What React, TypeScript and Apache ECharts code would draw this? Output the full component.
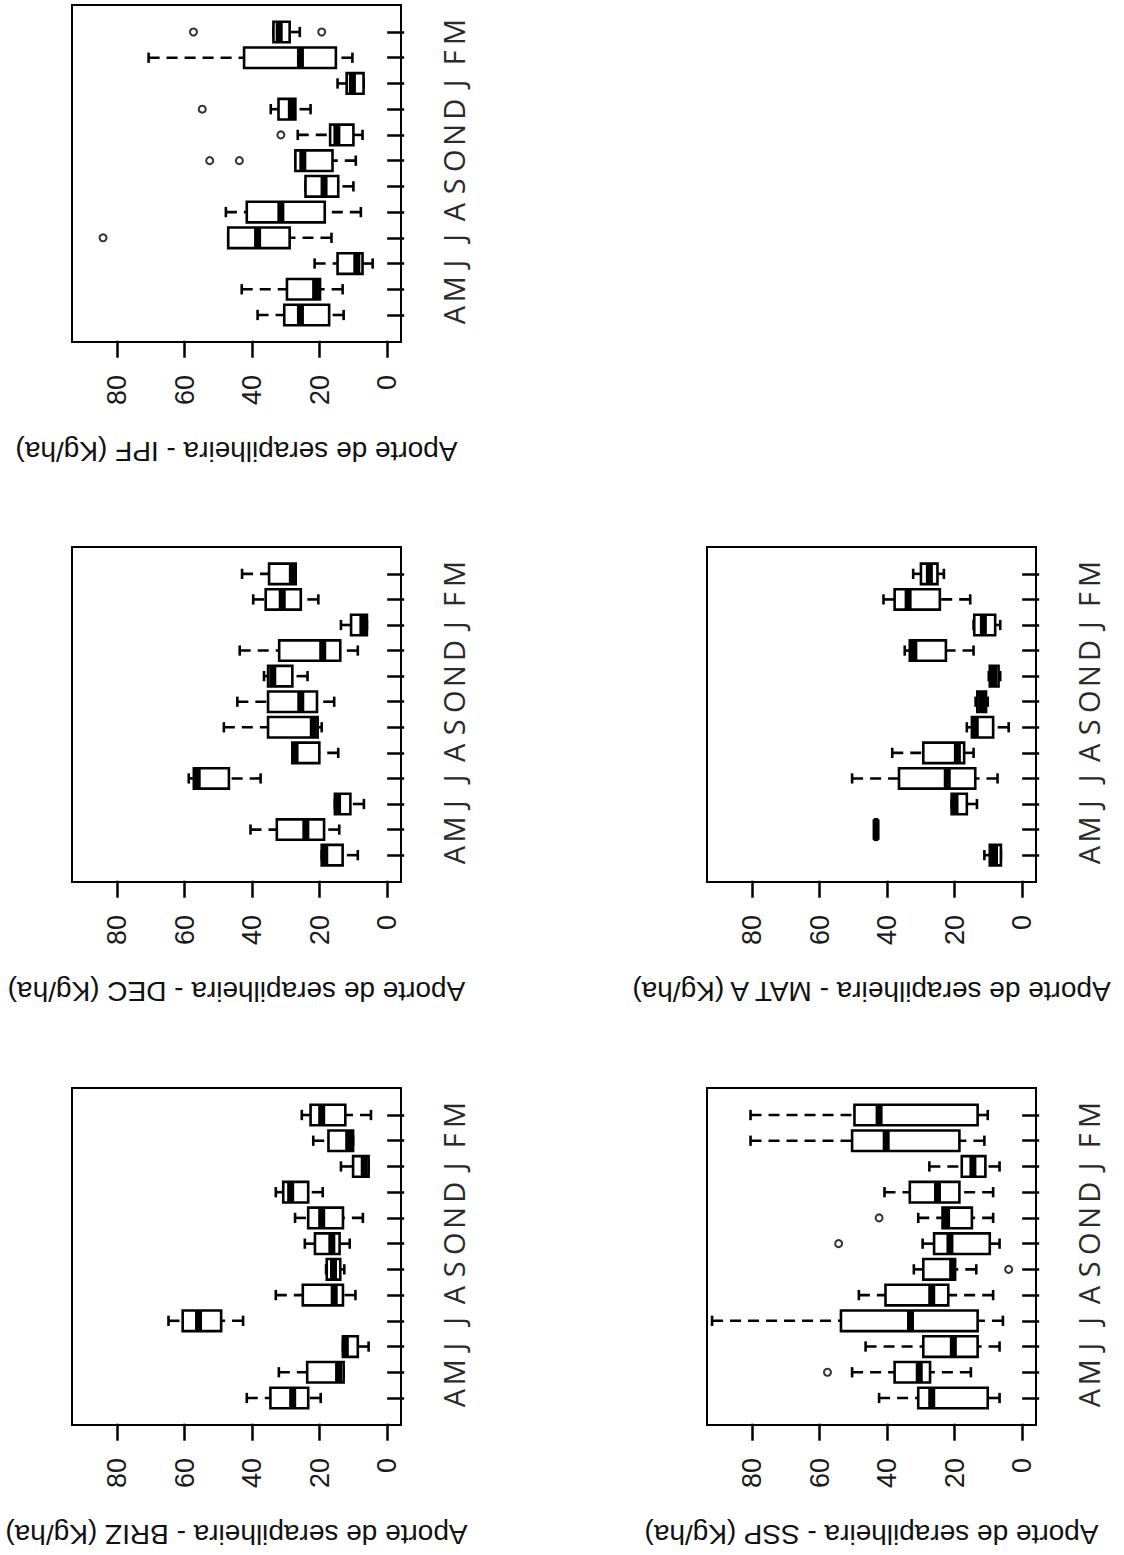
import React, { useEffect, useRef } from "react";
import * as echarts from "echarts";

// Month categories (April to March), value ticks
const months = ["A", "M", "J", "J", "A", "S", "O", "N", "D", "J", "F", "M"];
const monthPositions = [1, 2, 3, 4, 5, 6, 7, 8, 9, 10, 11, 12];
const valueTicks = [0, 20, 40, 60, 80];

// Each row: [lower whisker, Q1, median, Q3, upper whisker] — months A..M
const ipfStats = [
  [12.9, 17.2, 25.7, 30.5, 38.4],
  [13.2, 19.9, 21.2, 29.7, 43.1],
  [4.3, 7.3, 9.0, 14.7, 21.5],
  [16.5, 28.9, 38.4, 47.1, 47.1],
  [7.8, 18.5, 31.5, 41.6, 47.8],
  [10.0, 14.5, 18.7, 24.2, 24.2],
  [9.3, 16.2, 25.0, 27.2, 27.2],
  [7.3, 10.0, 14.9, 16.9, 26.5],
  [22.7, 27.2, 28.4, 32.2, 34.5],
  [7.0, 7.0, 10.3, 12.0, 14.7],
  [10.3, 15.2, 25.7, 42.4, 70.7],
  [25.9, 28.9, 32.0, 33.7, 33.7],
];
// [month position, value]
const ipfOutliers = [
  [4, 84.2],
  [6, 94.0],
  [7, 52.6],
  [7, 43.8],
  [8, 31.5],
  [9, 54.8],
  [12, 57.4],
  [12, 19.4],
];

const decStats = [
  [8.7, 13.2, 18.5, 19.4, 19.4],
  [14.2, 18.7, 24.1, 32.7, 40.5],
  [6.9, 10.9, 14.7, 15.5, 15.5],
  [37.5, 46.9, 56.3, 57.3, 58.8],
  [14.5, 20.1, 27.3, 28.1, 28.1],
  [19.4, 20.6, 21.9, 35.3, 48.4],
  [15.7, 20.8, 25.6, 35.3, 44.4],
  [23.6, 28.1, 33.9, 35.3, 36.5],
  [8.7, 13.9, 19.1, 32.0, 43.7],
  [6.0, 6.0, 7.2, 10.7, 13.7],
  [20.4, 25.6, 31.1, 36.0, 39.7],
  [27.1, 27.1, 28.1, 35.0, 43.0],
];
const decOutliers: number[][] = [];

const brizStats = [
  [19.7, 23.4, 28.0, 34.6, 41.6],
  [12.9, 12.9, 14.4, 23.7, 32.1],
  [5.5, 8.7, 12.4, 13.1, 13.1],
  [42.7, 49.2, 55.9, 60.6, 64.8],
  [9.4, 13.1, 15.7, 25.0, 33.0],
  [12.7, 13.9, 15.9, 17.9, 18.1],
  [11.1, 14.1, 16.4, 21.4, 24.4],
  [7.2, 13.1, 19.4, 23.4, 27.3],
  [19.1, 23.4, 28.6, 30.8, 33.0],
  [5.5, 5.5, 6.8, 10.1, 13.7],
  [10.1, 10.1, 11.4, 17.4, 21.9],
  [4.8, 12.4, 19.4, 22.7, 25.3],
];
const brizOutliers: number[][] = [];

const mataStats = [
  [6.3, 6.3, 8.2, 9.6, 11.2],
  [43.0, 43.0, 43.3, 43.6, 43.6],
  [13.4, 16.4, 19.9, 20.9, 20.9],
  [7.3, 13.9, 22.2, 36.5, 50.4],
  [14.4, 17.2, 19.2, 29.3, 38.5],
  [4.0, 8.6, 13.9, 14.9, 16.4],
  [10.2, 10.7, 12.0, 13.3, 13.8],
  [6.5, 7.0, 8.5, 9.6, 9.9],
  [14.4, 22.6, 32.1, 33.3, 34.8],
  [6.5, 8.0, 11.5, 14.2, 14.4],
  [15.4, 24.4, 33.8, 37.8, 41.1],
  [23.2, 25.1, 27.5, 30.0, 32.3],
];
const mataOutliers: number[][] = [];

const sspStats = [
  [6.7, 10.2, 26.8, 30.8, 42.4],
  [15.2, 27.3, 30.5, 37.8, 50.4],
  [6.7, 13.2, 20.4, 29.3, 46.4],
  [5.7, 13.2, 33.1, 53.7, 91.9],
  [8.6, 21.9, 26.8, 40.5, 48.4],
  [13.6, 19.9, 20.6, 29.3, 32.1],
  [6.7, 9.6, 21.4, 26.1, 29.5],
  [8.6, 14.9, 22.4, 23.6, 30.8],
  [8.6, 18.6, 25.1, 33.3, 40.8],
  [6.7, 10.9, 14.6, 17.9, 27.5],
  [11.2, 18.6, 40.3, 50.4, 80.5],
  [10.2, 13.2, 42.4, 49.7, 80.5],
];
const sspOutliers = [
  [2, 57.7],
  [6, 4.0],
  [7, 54.4],
  [8, 42.4],
];

const panels = [
  { title: "Aporte de serapilheira - IPF (Kg/ha)", stats: ipfStats, outliers: ipfOutliers, left: 72, top: 5, height: 337 },
  { title: "Aporte de serapilheira - DEC (Kg/ha)", stats: decStats, outliers: decOutliers, left: 72, top: 547, height: 335 },
  { title: "Aporte de serapilheira - BRIZ (Kg/ha)", stats: brizStats, outliers: brizOutliers, left: 72, top: 1088, height: 337 },
  { title: "Aporte de serapilheira - MAT A (Kg/ha)", stats: mataStats, outliers: mataOutliers, left: 707, top: 547, height: 335 },
  { title: "Aporte de serapilheira - SSP (Kg/ha)", stats: sspStats, outliers: sspOutliers, left: 707, top: 1088, height: 337 },
];

const PANEL_WIDTH = 329;

function renderBox(params: any, api: any) {
  const m = api.value(0);
  const lo = api.value(1);
  const q1 = api.value(2);
  const med = api.value(3);
  const q3 = api.value(4);
  const hi = api.value(5);
  const y = api.coord([0, m])[1];
  const unit = api.size([0, 1])[1];
  const hw = unit * 0.4;
  const sw = unit * 0.2;
  const X = (v: number) => api.coord([v, m])[0];
  const xlo = X(lo), xq1 = X(q1), xmed = X(med), xq3 = X(q3), xhi = X(hi);
  const solid = { stroke: "#000", lineWidth: 2.6, fill: null };
  const dashed = { stroke: "#000", lineWidth: 2.6, lineDash: [11, 7], fill: null };
  const children: any[] = [];
  if (Math.abs(xhi - xq3) > 0.5) {
    children.push({ type: "line", shape: { x1: xhi, y1: y, x2: xq3, y2: y }, style: dashed });
  }
  if (Math.abs(xlo - xq1) > 0.5) {
    children.push({ type: "line", shape: { x1: xlo, y1: y, x2: xq1, y2: y }, style: dashed });
  }
  children.push({ type: "line", shape: { x1: xhi, y1: y - sw, x2: xhi, y2: y + sw }, style: solid });
  children.push({ type: "line", shape: { x1: xlo, y1: y - sw, x2: xlo, y2: y + sw }, style: solid });
  children.push({
    type: "rect",
    shape: { x: Math.min(xq1, xq3), y: y - hw, width: Math.abs(xq1 - xq3), height: 2 * hw },
    style: { fill: "#fff", stroke: "#000", lineWidth: 2.6 },
  });
  children.push({
    type: "line",
    shape: { x1: xmed, y1: y - hw, x2: xmed, y2: y + hw },
    style: { stroke: "#000", lineWidth: 7 },
  });
  return { type: "group", children };
}

function buildOption() {
  const grid: any[] = [];
  const xAxis: any[] = [];
  const yAxis: any[] = [];
  const series: any[] = [];
  panels.forEach((p, i) => {
    grid.push({
      left: p.left,
      top: p.top,
      width: PANEL_WIDTH,
      height: p.height,
      show: true,
      borderColor: "#000",
      borderWidth: 2,
      backgroundColor: "transparent",
    });
    xAxis.push({
      type: "value",
      gridIndex: i,
      min: -4.1,
      max: 93.4,
      inverse: true,
      position: "bottom",
      axisLine: { show: false },
      splitLine: { show: false },
      axisTick: {
        show: true,
        customValues: valueTicks,
        length: 17,
        lineStyle: { color: "#000", width: 2.5 },
      },
      axisLabel: {
        customValues: valueTicks,
        rotate: 90,
        margin: 33,
        fontFamily: "Liberation Sans, Arial, sans-serif",
        fontSize: 27,
        color: "#1a1a1a",
      },
      name: p.title,
      nameLocation: "middle",
      nameRotate: 180,
      nameGap: 95,
      nameTextStyle: {
        fontFamily: "Liberation Sans, Arial, sans-serif",
        fontSize: 28,
        color: "#111",
      },
    });
    yAxis.push({
      type: "value",
      gridIndex: i,
      min: -0.05,
      max: 13.05,
      position: "right",
      axisLine: { show: false },
      splitLine: { show: false },
      axisTick: {
        show: true,
        customValues: monthPositions,
        length: 17,
        lineStyle: { color: "#000", width: 2.5 },
      },
      axisLabel: {
        customValues: monthPositions,
        formatter: (v: number) => months[Math.round(v) - 1] || "",
        rotate: 90,
        margin: 38,
        fontFamily: "Open Sans, sans-serif",
        fontSize: 29,
        color: "#2a2a2a",
      },
    });
    series.push({
      type: "custom",
      xAxisIndex: i,
      yAxisIndex: i,
      renderItem: renderBox,
      clip: true,
      encode: { x: [1, 5], y: 0 },
      data: p.stats.map((s, k) => [monthPositions[k], ...s]),
    });
    series.push({
      type: "scatter",
      xAxisIndex: i,
      yAxisIndex: i,
      clip: true,
      symbol: "circle",
      symbolSize: 7,
      itemStyle: { color: "#fff", borderColor: "#000", borderWidth: 2 },
      data: p.outliers.map(([m, v]) => [v, m]),
    });
  });
  return {
    animation: false,
    backgroundColor: "#fff",
    grid,
    xAxis,
    yAxis,
    series,
  };
}

export default function App() {
  const ref = useRef<HTMLDivElement>(null);
  useEffect(() => {
    if (!ref.current) return;
    const chart = echarts.init(ref.current, undefined, { renderer: "svg" });
    chart.setOption(buildOption() as any);
    return () => chart.dispose();
  }, []);
  return (
    <div
      ref={ref}
      style={{ position: "absolute", left: 0, top: 0, width: 1124, height: 1555, background: "#fff" }}
    />
  );
}
